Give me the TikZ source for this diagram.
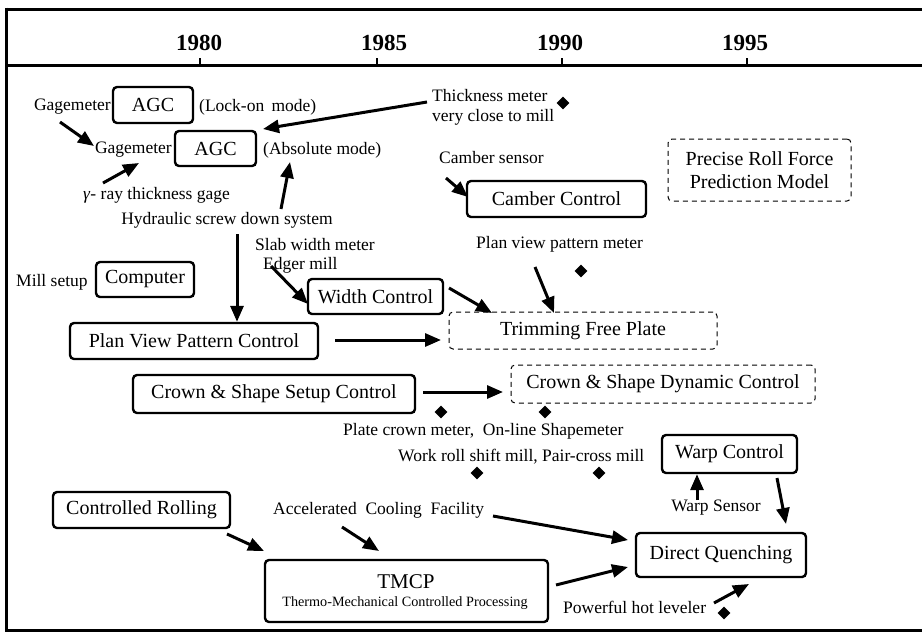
\documentclass[tikz,border=0pt]{standalone}
\usepackage{fontspec}
\setmainfont{Liberation Serif}
\usetikzlibrary{arrows.meta,shapes.geometric}
\tikzset{
  frame/.style={line width=3pt},
  tick/.style={line width=2pt},
  yearlbl/.style={inner sep=0, font=\fontsize{23}{26}\bfseries\selectfont},
  box/.style={draw, line width=2.4pt, rounded corners=4pt, inner sep=0, font=\fontsize{20}{23}\selectfont, align=center},
  dbox/.style={draw, line width=1pt, dash pattern=on 5pt off 4pt, rounded corners=4pt, inner sep=0, font=\fontsize{20}{23}\selectfont, align=center},
  lbl/.style={inner sep=0, font=\fontsize{17.5}{20}\selectfont},
  arr/.style={line width=3pt, -{Triangle[length=16pt,width=13pt]}},
  dia/.style={shape=diamond, fill, inner sep=0, minimum width=13pt, minimum height=13pt}
}
\begin{document}
\begin{tikzpicture}[x=1pt,y=-1pt]
\useasboundingbox (0,0) rectangle (922,641);
% frame
\draw[frame] (6,9) -- (922,9);
\draw[frame] (6,65) -- (922,65);
\draw[frame] (6,630) -- (922,630);
\draw[frame] (6,7.5) -- (6,631.5);
% years
\draw[tick] (200,58) -- (200,66);
\draw[tick] (377,58) -- (377,66);
\draw[tick] (562,58) -- (562,66);
\draw[tick] (747,58) -- (747,66);
\node[yearlbl] (y1980) at (199,43) {1980};
\node[yearlbl] (y1985) at (384,43) {1985};
\node[yearlbl] (y1990) at (560,43) {1990};
\node[yearlbl] (y1995) at (745,43) {1995};

% AGC
\node[box, minimum width=80pt, minimum height=36pt] (agc1) at (153,105) {AGC};
\node[lbl, anchor=east] (gage1) at (111,107) {Gagemeter};
\node[lbl, anchor=west] (lock) at (199,107) {(Lock-on\, mode)};
\node[box, minimum width=81pt, minimum height=35pt] (agc2) at (215.5,148.5) {AGC};
\node[lbl, anchor=east] (gage2) at (172,150) {Gagemeter};
\node[lbl, anchor=west] (abs) at (263,150) {(Absolute mode)};
\node[lbl, anchor=west] (gamma) at (83,195) {\textit{γ}- ray thickness gage};
\node[lbl] (hyd) at (227,220) {Hydraulic screw down system};
\node[lbl, anchor=west, align=left] (thick) at (432,107) {Thickness meter\\very close to mill};
\node[dia] (d1) at (563,103) {};

\coordinate (t1) at (427,102); \coordinate (t2) at (263,129);
\draw[arr] (t1) -- (t2);
\coordinate (g1) at (60,122); \coordinate (g2) at (94,146);
\draw[arr] (g1) -- (g2);
\coordinate (r1) at (103,183); \coordinate (r2) at (139,163);
\draw[arr] (r1) -- (r2);
\coordinate (h1) at (281,209); \coordinate (h2) at (290,162);
\draw[arr] (h1) -- (h2);

% Precise roll force
\node[dbox, minimum width=183pt, minimum height=62pt] (prf) at (759.5,170) {Precise Roll Force\\Prediction Model};

% Camber
\node[lbl, anchor=west] (cambs) at (439,158) {Camber sensor};
\node[box, minimum width=179pt, minimum height=36pt] (camb) at (556.5,199) {Camber Control};
\coordinate (c1) at (446,178); \coordinate (c2) at (468,197);
\draw[arr] (c1) -- (c2);

% width / plan view
\node[lbl, anchor=west] (pvpm) at (476,244) {Plan view pattern meter};
\node[dia] (d2) at (581,271) {};
\node[lbl, anchor=west] (slab) at (255,245) {Slab width meter};
\node[lbl, anchor=west] (edger) at (263,265) {Edger mill};
\node[lbl, anchor=west] (mset) at (16,282) {Mill setup};
\node[box, minimum width=98pt, minimum height=35pt] (comp) at (145,279.5) {Computer};
\node[box, minimum width=135pt, minimum height=35pt] (wc) at (375.5,296.5) {Width Control};
\coordinate (e1) at (271,266); \coordinate (e2) at (308,304);
\draw[arr] (e1) -- (e2);
\node[box, minimum width=248pt, minimum height=36pt] (pvpc) at (194,341) {Plan View Pattern Control};
\coordinate (v1) at (237,234);
\draw[arr] (v1) -- (pvpc.north -| v1);
\node[dbox, minimum width=268pt, minimum height=37pt] (tfp) at (583,330.5) {Trimming Free Plate};
\coordinate (p1) at (335,340); \coordinate (p2) at (441,340);
\draw[arr] (p1) -- (p2);
\coordinate (w1) at (449,288); \coordinate (w2) at (492,313);
\draw[arr] (w1) -- (w2);
\coordinate (m1) at (535,267); \coordinate (m2) at (554,313);
\draw[arr] (m1) -- (m2);

% crown & shape
\node[box, minimum width=282pt, minimum height=38pt] (cssc) at (274,394) {Crown \& Shape Setup Control};
\node[dbox, minimum width=304pt, minimum height=38pt] (csdc) at (663,384) {Crown \& Shape Dynamic Control};
\coordinate (s1) at (423,392); \coordinate (s2) at (503,392);
\draw[arr] (s1) -- (s2);
\node[dia] (d3) at (441,412) {};
\node[dia] (d4) at (545,412) {};
\node[lbl, anchor=west] (pcm) at (343,431) {Plate crown meter,\ \ On-line Shapemeter};
\node[lbl, anchor=west] (wrs) at (398,457) {Work roll shift mill, Pair-cross mill};
\node[dia] (d5) at (477,473) {};
\node[dia] (d6) at (599,473) {};

% warp
\node[box, minimum width=135pt, minimum height=38pt] (warp) at (729.5,454) {Warp Control};
\node[lbl] (wsen) at (716,508) {Warp Sensor};
\coordinate (ws1) at (697,500);
\draw[arr] (ws1) -- (warp.south -| ws1);
\coordinate (wd1) at (777,478); \coordinate (wd2) at (786,524);
\draw[arr] (wd1) -- (wd2);

% bottom
\node[box, minimum width=170pt, minimum height=44pt] (dq) at (721,555) {Direct Quenching};
\node[box, minimum width=177pt, minimum height=36pt] (cr) at (141.5,510) {Controlled Rolling};
\node[lbl, anchor=west] (acf) at (273,510) {Accelerated\ \ Cooling\ \ Facility};
\node[box, minimum width=283pt, minimum height=62pt] (tmcp) at (406.5,591) {};
\node[inner sep=0, font=\fontsize{21}{24}\selectfont] (tmcpt) at (406,582) {TMCP};
\node[inner sep=0, font=\fontsize{14.2}{16}\selectfont] (tmcps) at (405,603) {Thermo-Mechanical Controlled Processing};
\coordinate (a1) at (493,516); \coordinate (a2) at (628,540);
\draw[arr] (a1) -- (a2);
\coordinate (cr1) at (227,534); \coordinate (cr2) at (264,551);
\draw[arr] (cr1) -- (cr2);
\coordinate (ac1) at (342,527); \coordinate (ac2) at (379,551);
\draw[arr] (ac1) -- (ac2);
\coordinate (tm1) at (556,585); \coordinate (tm2) at (628,567);
\draw[arr] (tm1) -- (tm2);
\node[lbl, anchor=west] (phl) at (563,607) {Powerful hot leveler};
\coordinate (ph1) at (714,603); \coordinate (ph2) at (749,584);
\draw[arr] (ph1) -- (ph2);
\node[dia] (d7) at (724,613) {};
\end{tikzpicture}
\end{document}
